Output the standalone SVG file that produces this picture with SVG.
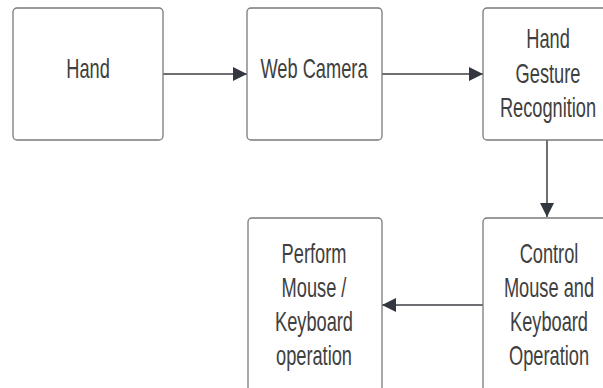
<svg xmlns="http://www.w3.org/2000/svg" width="603" height="388" viewBox="0 0 603 388">
  <style>
    .box { fill: #ffffff; stroke: #7a7a7a; stroke-width: 1.3; }
    .lbl { font-family: "Liberation Sans", Arial, sans-serif; font-size: 28.5px; fill: #404040; text-anchor: middle; }
    .wire { fill: none; stroke: #3d3f44; stroke-width: 1.5; }
  </style>
  <defs>
    <marker id="head" viewBox="0 0 14 14" refX="14" refY="7" markerWidth="14" markerHeight="14" markerUnits="userSpaceOnUse" orient="auto">
      <path d="M0,0 L14,7 L0,14 Z" fill="#333840"/>
    </marker>
  </defs>
  <rect width="603" height="388" fill="#ffffff"/>

  <g id="connectors">
    <line class="wire" x1="163" y1="74" x2="247" y2="74" marker-end="url(#head)"/>
    <line class="wire" x1="382" y1="74" x2="483" y2="74" marker-end="url(#head)"/>
    <line class="wire" x1="547" y1="140" x2="547" y2="217" marker-end="url(#head)"/>
    <line class="wire" x1="483" y1="305" x2="382" y2="305" marker-end="url(#head)"/>
  </g>

  <g id="hand">
    <rect class="box" x="13" y="8" width="150" height="132" rx="4"/>
    <g transform="translate(88,0) scale(0.64,1)">
      <text class="lbl" x="0" y="78.5">Hand</text>
    </g>
  </g>

  <g id="web-camera">
    <rect class="box" x="247" y="8" width="135" height="132" rx="4"/>
    <g transform="translate(314,0) scale(0.64,1)">
      <text class="lbl" x="0" y="78.5">Web Camera</text>
    </g>
  </g>

  <g id="gesture-recognition">
    <rect class="box" x="483" y="8" width="135" height="132" rx="4"/>
    <g transform="translate(548,0) scale(0.64,1)">
      <text class="lbl" x="0" y="48.5">Hand</text>
      <text class="lbl" x="0" y="83">Gesture</text>
      <text class="lbl" x="0" y="117">Recognition</text>
    </g>
  </g>

  <g id="control-operation">
    <rect class="box" x="483" y="218" width="135" height="185" rx="4"/>
    <g transform="translate(549,0) scale(0.64,1)">
      <text class="lbl" x="0" y="263">Control</text>
      <text class="lbl" x="0" y="297">Mouse and</text>
      <text class="lbl" x="0" y="331">Keyboard</text>
      <text class="lbl" x="0" y="365">Operation</text>
    </g>
  </g>

  <g id="perform-operation">
    <rect class="box" x="248" y="218" width="134" height="185" rx="4"/>
    <g transform="translate(314,0) scale(0.64,1)">
      <text class="lbl" x="0" y="263">Perform</text>
      <text class="lbl" x="0" y="297">Mouse /</text>
      <text class="lbl" x="0" y="331">Keyboard</text>
      <text class="lbl" x="0" y="365">operation</text>
    </g>
  </g>
</svg>
